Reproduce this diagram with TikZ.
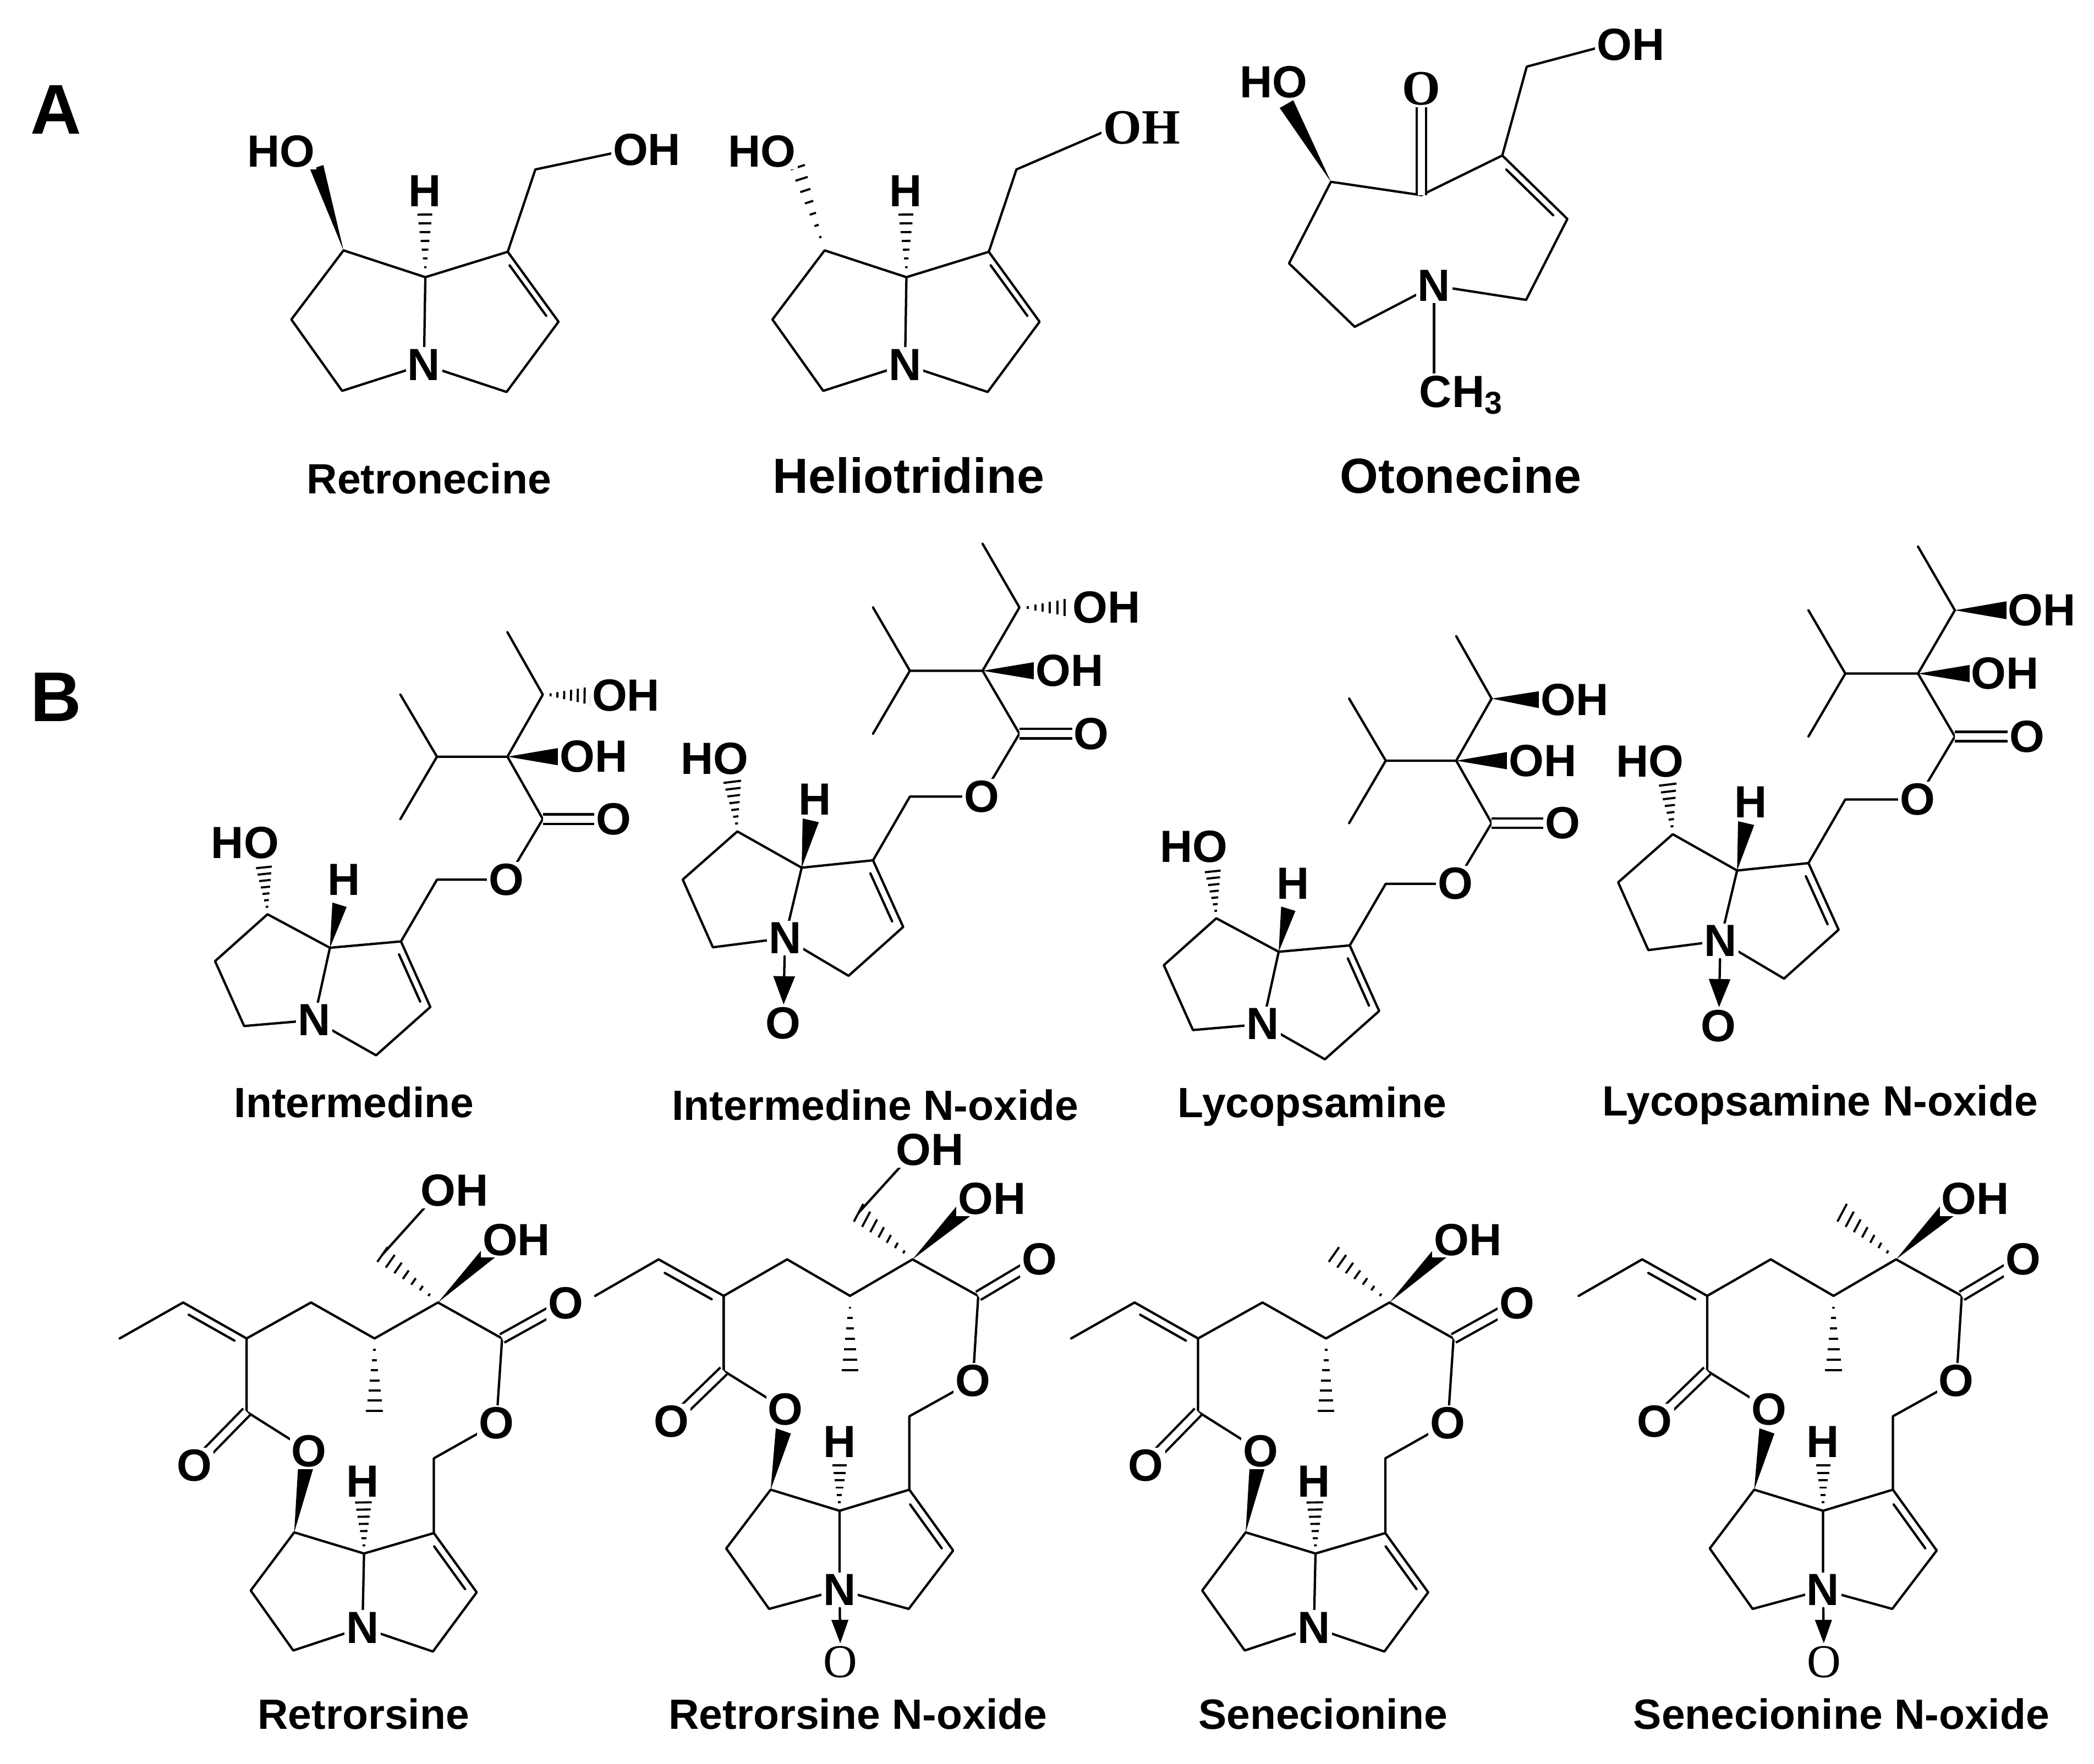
\documentclass[tikz,border=0pt]{standalone}
\usepackage{fontspec}
\setmainfont{Liberation Sans}
\newfontfamily\serifb{Liberation Serif}
\usetikzlibrary{calc,arrows.meta}
\tikzset{
  bond/.style={line width=0.5pt,line cap=round,line join=round},
  dbond/.style={line width=0.5pt,double,double distance=1.5pt},
  lab/.style={font=\fontsize{9.6}{10}\selectfont\bfseries,fill=white,inner sep=0.4pt},
  slab/.style={font=\serifb\fontsize{10.5}{10}\selectfont\bfseries,fill=white,inner sep=0.4pt},
  sreg/.style={font=\serifb\fontsize{10}{10}\selectfont,fill=white,inner sep=0.4pt},
  molname/.style={font=\fontsize{9}{11}\selectfont\bfseries},
  panel/.style={font=\fontsize{15}{15}\selectfont\bfseries}
}
\newcommand{\wdg}[2]{\fill ($(#1)$) -- ($(#2)!7pt!90:(#1)$) -- ($(#2)!7pt!-90:(#1)$) -- cycle;}
\newcommand{\hsh}[2]{\coordinate (hA) at ($(#2)!7.5pt!90:(#1)$);\coordinate (hB) at ($(#2)!7.5pt!-90:(#1)$);%
  \foreach \t in {0.16,0.30,...,1.0}{\draw[line width=0.45pt] ($(#1)!\t!(hA)$) -- ($(#1)!\t!(hB)$);}}
\newcommand{\dbl}[4]{\coordinate (dA) at ($(#1)!0.14!(#2)$);\coordinate (dB) at ($(#1)!0.86!(#2)$);%
  \draw[bond] ($(dA)!6.5pt!#3:(dB)$) -- ($(dB)!6.5pt!#4:(dA)$);}
% retronecine / heliotridine core
\newcommand{\necine}[4]{\begin{scope}[#1]
 \draw[bond] (340,595)--(155,840)--(335,1093)--(625,1000)--(630,690)--cycle (630,690)--(922,600)--(1102,848)--(918,1097)--(625,1000);
 \dbl{922,600}{1102,848}{-90}{90}
 \draw[bond] (922,600)--(1020,308)--#3;
 #2{340,595}{245,300}
 \hsh{630,690}{628,468}
 \node[lab] (#4N) at (625,1000) {N};
 \node[lab] (#4H) at (628,385) {H};
 \node[lab] (#4HO) at (118,245) {HO};
\end{scope}}
% intermedine type
\newcommand{\intermol}[3]{\begin{scope}[#1]
 \draw[bond] (250,955)--(75,1088)--(172,1272)--(405,1255)--(458,1050)--cycle (458,1050)--(695,1032)--(793,1218)--(612,1355)--(405,1255);
 \dbl{695,1032}{793,1218}{-90}{90}
 \draw[bond] (695,1032)--(815,857)--(1047,857)--(1168,685)--(1050,508)--(815,508)--(693,332) (815,508)--(693,685) (1050,508)--(1168,332)--(1050,155);
 \draw[dbond] (1168,685)--(1400,685);
 \hsh{250,955}{238,822}
 \wdg{458,1050}{490,928}
 \wdg{1050,508}{1220,508}
 #2{1168,332}{1330,335}
 \node[lab] (#3HO) at (175,752) {HO};
 \node[lab] (#3H) at (505,857) {H};
 \node[lab] (#3N) at (405,1255) {N};
 \node[lab] (#3Oe) at (1047,857) {O};
 \node[lab] (#3Oc) at (1405,685) {O};
 \node[lab] (#3OHa) at (1338,508) {OH};
 \node[lab] (#3OHb) at (1445,335) {OH};
\end{scope}}
% N-oxide type
\newcommand{\noxmol}[3]{\begin{scope}[#1]
 \draw[bond] (313,842)--(150,972)--(240,1155)--(455,1130)--(505,940)--cycle (505,940)--(718,920)--(808,1100)--(645,1232)--(455,1130);
 \dbl{718,920}{808,1100}{-90}{90}
 \draw[bond] (718,920)--(828,748)--(1043,748)--(1155,578)--(1045,408)--(828,408)--(718,237) (828,408)--(718,578) (1045,408)--(1155,237)--(1045,65);
 \draw[dbond] (1155,578)--(1365,578);
 \hsh{313,842}{298,708}
 \wdg{505,940}{532,812}
 \wdg{1045,408}{1208,408}
 #2{1155,237}{1312,237}
 \node[lab] (#3HO) at (245,645) {HO};
 \node[lab] (#3H) at (545,755) {H};
 \node[lab] (#3N) at (455,1130) {N};
 \node[lab] (#3Ox) at (450,1360) {O};
 \node[lab] (#3Oe) at (1043,748) {O};
 \node[lab] (#3Oc) at (1370,578) {O};
 \node[lab] (#3OHa) at (1305,408) {OH};
 \node[lab] (#3OHb) at (1415,237) {OH};
 \draw[bond,-{Triangle[length=6pt,width=4.5pt]}] (#3N) -- (#3Ox);
\end{scope}}
% retrorsine type
\newcommand{\retromol}[3]{\begin{scope}[#1]
 \draw[bond] (615,1070)--(478,1235)--(612,1405)--(830,1340)--(835,1130)--cycle (835,1130)--(1055,1072)--(1190,1240)--(1052,1408)--(830,1340);
 \dbl{1055,1072}{1190,1240}{-90}{90}
 \draw[bond] (1055,1072)--(1055,860)--(1252,760)--(1270,520)--(1068,418)--(868,520)--(668,418)--(465,520)--(265,418)--(65,520);
 \dbl{265,418}{465,520}{-90}{90}
 \draw[bond] (465,520)--(465,728)--(662,840);
 \draw[dbond] (465,728)--(300,880);
 \draw[dbond] (1270,520)--(1470,420);
 \wdg{615,1070}{652,880}
 \hsh{835,1130}{833,985}
 \wdg{1068,418}{1245,262}
 \hsh{1068,418}{893,282}
 \hsh{868,520}{868,725}
 #2
 \node[lab] (#3N) at (830,1340) {N};
 \node[lab] (#3Oa) at (662,840) {O};
 \node[lab] (#3Ob) at (300,880) {O};
 \node[lab] (#3Oc) at (1252,760) {O};
 \node[lab] (#3Od) at (1470,420) {O};
 \node[lab] (#3OH) at (1315,240) {OH};
 \node[lab] (#3H) at (830,925) {H};
\end{scope}}
% retrorsine N-oxide type
\newcommand{\retronox}[3]{\begin{scope}[#1]
 \draw[bond] (608,893)--(468,1038)--(603,1187)--(825,1140)--(825,945)--cycle (825,945)--(1045,893)--(1183,1043)--(1043,1187)--(825,1140);
 \dbl{1045,893}{1183,1043}{-90}{90}
 \draw[bond] (1045,893)--(1045,712)--(1245,625)--(1262,415)--(1055,325)--(858,415)--(660,325)--(460,415)--(255,325)--(55,415);
 \dbl{255,325}{460,415}{-90}{90}
 \draw[bond] (460,415)--(460,600)--(655,695);
 \draw[dbond] (460,600)--(295,725);
 \draw[dbond] (1262,415)--(1455,325);
 \wdg{608,893}{648,748}
 \hsh{825,945}{825,815}
 \wdg{1055,325}{1228,195}
 \hsh{1055,325}{885,210}
 \hsh{858,415}{858,598}
 #2
 \node[lab] (#3N) at (825,1140) {N};
 \node[sreg] (#3Ox) at (828,1318) {O};
 \node[lab] (#3Oa) at (655,695) {O};
 \node[lab] (#3Ob) at (295,725) {O};
 \node[lab] (#3Oc) at (1245,625) {O};
 \node[lab] (#3Od) at (1455,325) {O};
 \node[lab] (#3OH) at (1305,175) {OH};
 \node[lab] (#3H) at (825,775) {H};
 \draw[bond,-{Triangle[length=5pt,width=3.5pt]}] (#3N) -- (#3Ox);
\end{scope}}
\begin{document}
\begin{tikzpicture}[x=0.01cm,y=-0.01cm]
\useasboundingbox (0,0) rectangle (1567,1320);
\node[panel] (pA) at (42,82) {A};
\node[panel] (pB) at (42,522) {B};
% Retronecine
\necine{shift={(185.3,61.8)},scale=0.2111}{\wdg}{(1305,248)}{rn}
\begin{scope}[shift={(185.3,61.8)},scale=0.2111]
 \node[lab] (rnOH) at (1415,238) {OH};
\end{scope}
% Heliotridine
\necine{shift={(545.3,61.8)},scale=0.2111}{\hsh}{(1345,168)}{ht}
\begin{scope}[shift={(545.3,61.8)},scale=0.2111]
 \node[slab] (htOH) at (1465,160) {OH};
\end{scope}
% Otonecine
\begin{scope}[shift={(905.7,0)},scale=0.2375]
 \draw[bond] (380,573)--(665,615)--(920,490)--(1125,690)--(995,945)--(705,900)--(455,1030)--(248,830)--cycle;
 \dbl{920,490}{1125,690}{-90}{90}
 \draw[bond] (920,490)--(997,210)--(1215,152);
 \draw[dbond] (665,615)--(665,300);
 \draw[bond] (705,900)--(705,1200);
 \wdg{380,573}{240,328}
 \node[lab] (otHO) at (200,258) {HO};
 \node[slab] (otO) at (665,280) {O};
 \node[lab] (otOH) at (1325,140) {OH};
 \node[lab] (otN) at (705,900) {N};
 \node[lab,anchor=west] (otMe) at (650,1245) {CH\textsubscript{3}};
\end{scope}
% Row B1
\intermol{shift={(144.1,432.3)},xscale=0.2244,yscale=0.2639}{\hsh}{im}
\noxmol{shift={(473.3,389)},xscale=0.2507,yscale=0.2771}{\hsh}{imx}
\intermol{shift={(854.1,435.3)},xscale=0.2244,yscale=0.2639}{\wdg}{ly}
\noxmol{shift={(1173.3,391.1)},xscale=0.2507,yscale=0.2771}{\wdg}{lyx}
% Row B2
\retromol{shift={(74.1,864.6)},xscale=0.2375,yscale=0.2639}{\draw[bond] (893,282)--(1040,135);\node[lab] (rtOHb) at (1120,100) {OH};}{rt}
\retronox{shift={(432.3,844.0)},xscale=0.2375,yscale=0.3035}{\draw[bond] (885,210)--(1030,85);\node[lab] (rxOHb) at (1110,55) {OH};}{rx}
\retromol{shift={(786.1,864.6)},xscale=0.2375,yscale=0.2639}{}{sn}
\retronox{shift={(1168.3,844.0)},xscale=0.2375,yscale=0.3035}{}{sx}
% names
\node[molname] (n1) at (321,358) {Retronecine};
\node[molname,font=\fontsize{10.5}{12}\selectfont\bfseries] (n2) at (680,356) {Heliotridine};
\node[molname,font=\fontsize{10.5}{12}\selectfont\bfseries] (n3) at (1093,356) {Otonecine};
\node[molname] (n4) at (265,825) {Intermedine};
\node[molname] (n5) at (655,827) {Intermedine N-oxide};
\node[molname] (n6) at (982,828) {Lycopsamine};
\node[molname] (n7) at (1362,827) {Lycopsamine N-oxide};
\node[molname] (n8) at (272,1283) {Retrorsine};
\node[molname] (n9) at (642,1283) {Retrorsine N-oxide};
\node[molname] (n10) at (990,1283) {Senecionine};
\node[molname] (n11) at (1378,1283) {Senecionine N-oxide};
\end{tikzpicture}
\end{document}
